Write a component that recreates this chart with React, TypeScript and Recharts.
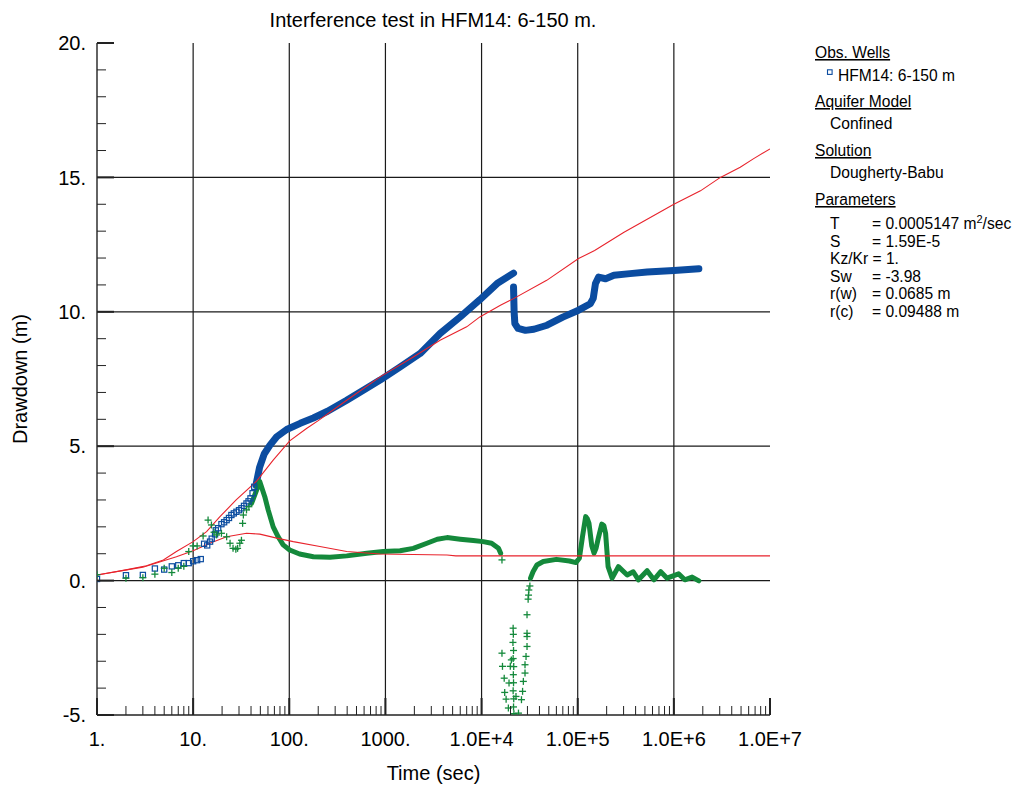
import React from 'react';
import { ComposedChart, Line, Scatter, XAxis, YAxis, ReferenceLine, Label } from 'recharts';

// Interference test, HFM14 section 6-150 m: drawdown (squares), derivative (pluses)
// and the Dougherty-Babu type curves (red), on a log time axis.

type Pt = { t: number; s: number };
const toPts = (rows: number[][]): Pt[] => rows.map(([t, s]) => ({ t, s }));

const FONT = 'Liberation Sans, Arial, Helvetica, sans-serif';
const BLUE = '#0b4ca0';
const GREEN = '#14893b';
const RED = '#e8232c';
const AXIS = '#222';

// ---- axis ticks -------------------------------------------------------
const decades = [1, 10, 100, 1000, 1e4, 1e5, 1e6, 1e7];
const decadeLabels = ['1.', '10.', '100.', '1000.', '1.0E+4', '1.0E+5', '1.0E+6', '1.0E+7'];
const minorSteps = [2, 3, 4, 5, 6, 7, 8, 9];
const xTicks = decades.flatMap((d, i) =>
  i < decades.length - 1 ? [d, ...minorSteps.map((m) => m * d)] : [d]
);
const yTicks = [-5, -4, -3, -2, -1, 0, 1, 2, 3, 4, 5, 6, 7, 8, 9, 10, 11, 12, 13, 14, 15, 16, 17, 18, 19, 20];
const yMajor = [-5, 0, 5, 10, 15, 20];
const xGrid = [10, 100, 1000, 1e4, 1e5, 1e6];
const yGrid = [0, 5, 10, 15];

// ---- observed drawdown (m) vs time (s) ---------------------------------
const obsEarly = toPts([
  [1, 0.06], [2, 0.2], [3, 0.21], [4, 0.45], [5, 0.41], [6, 0.53], [7, 0.57], [8, 0.65],
  [9, 0.65], [10, 0.72], [11, 0.76], [12, 0.8], [13, 1.37], [14, 1.31], [15, 1.45],
  [15.6, 1.56], [16.9, 1.72], [17.2, 1.87], [18.2, 1.95], [19.7, 2.1], [21, 2.17],
  [22.3, 2.25], [23.6, 2.33], [25, 2.44], [26.5, 2.5], [28.2, 2.56], [30, 2.62],
  [31.8, 2.69], [33.8, 2.78], [35.9, 2.87], [37.7, 2.95], [39.5, 3.06], [41.5, 3.25],
  [43.2, 3.49],
]);
const obsPumping = toPts([
  [45, 3.55], [49, 4.2], [55, 4.72], [63, 5.04], [74, 5.35], [94, 5.62], [130, 5.85],
  [178, 6.05], [250, 6.3], [396, 6.71], [600, 7.1], [880, 7.46], [1400, 7.93],
  [2300, 8.45], [3700, 9.19], [6000, 9.81], [9600, 10.45], [14500, 11.05], [21500, 11.44],
]);
const obsLate = toPts([
  [21500, 10.92], [21800, 10.0], [22200, 9.56], [24000, 9.38], [28600, 9.31], [35000, 9.35],
  [48000, 9.5], [70000, 9.8], [102000, 10.06], [135000, 10.3], [145000, 10.5],
  [153000, 11.05], [165000, 11.29], [195000, 11.23], [238000, 11.36], [350000, 11.42],
  [527000, 11.48], [1e6, 11.54], [1.82e6, 11.6],
]);

// ---- drawdown derivative ----------------------------------------------
const derivEarly = toPts([
  [1, 0.22], [2, 0.09], [3, 0.11], [4, 0.24], [5, 0.46], [6, 0.3], [7, 0.46], [8, 0.53],
  [9, 1.08], [10, 1.29], [11, 1.29], [12.7, 1.66], [14.3, 2.25], [15.5, 2.07], [16.5, 1.8],
  [17.5, 1.7], [19.7, 1.76], [22.3, 1.63], [24.2, 1.39], [26, 1.2], [27.8, 1.17], [29, 1.2],
  [30.6, 1.39], [31.8, 1.5], [32.7, 2.13], [33.3, 2.44], [35.9, 2.63], [38, 2.75],
]);
const derivPumping = toPts([
  [40.5, 2.87], [45.7, 3.37], [49.4, 3.68], [55.6, 3.12], [60.3, 2.63], [68, 2.0],
  [76.6, 1.63], [86.4, 1.33], [101, 1.14], [128, 0.99], [178, 0.89], [265, 0.87],
  [396, 0.92], [640, 1.02], [950, 1.08], [1420, 1.11], [1950, 1.2], [2700, 1.39],
  [3460, 1.54], [4370, 1.6], [6000, 1.54], [8200, 1.49], [10400, 1.45], [12700, 1.39],
  [15000, 1.2], [15800, 1.02],
]);
const derivScatter = toPts([
  [16300, 0.77], [16300, -2.7], [16500, -3.19], [17200, -3.63], [17400, -4.16],
  [18000, -4.41], [19000, -4.74], [19300, -3.81], [19900, -3.19], [20400, -2.95],
  [21300, -1.77], [21400, -2.0], [21200, -2.3], [21500, -2.6], [21300, -2.9], [21600, -3.2],
  [21400, -3.5], [21500, -3.8], [21300, -4.1], [21600, -4.4], [21500, -4.7], [21700, -4.95],
  [22800, -4.31], [24200, -4.93], [26000, -4.43], [26700, -4.12], [27200, -3.75],
  [28300, -3.44], [28300, -3.13], [29000, -2.82], [29700, -2.45], [29700, -2.08],
  [29700, -1.96], [29700, -1.27], [30500, -0.69], [30800, -0.54], [31000, -0.35],
  [31800, -0.2],
]);
const derivRecovery = toPts([
  [32300, 0.09], [34300, 0.33], [37600, 0.58], [43800, 0.71], [60000, 0.79], [82000, 0.73],
  [96000, 0.67], [104000, 0.83], [112000, 1.63], [121000, 2.38], [126000, 2.3],
  [131000, 2.13], [140000, 1.3], [148000, 1.02], [155000, 1.2], [165000, 1.63],
  [178000, 2.1], [187000, 2.05], [195000, 1.76], [207000, 0.52], [228000, 0.09],
  [265000, 0.52], [327000, 0.21], [378000, 0.33], [428000, 0.03], [527000, 0.37],
  [620000, 0.03], [730000, 0.33], [850000, 0.09], [1.12e6, 0.25], [1.3e6, 0.03],
  [1.55e6, 0.13], [1.82e6, -0.01],
]);

// ---- Dougherty-Babu type curves ----------------------------------------
const modelDrawdown = toPts([
  [1, 0.21], [2, 0.4], [3.27, 0.55], [4.9, 0.77], [6.7, 1.08], [10, 1.45], [13.8, 1.82],
  [19, 2.38], [28, 3.0], [45.7, 3.7], [68, 4.48], [101, 5.2], [151, 5.66], [200, 5.95],
  [396, 6.71], [880, 7.58], [1950, 8.32], [3700, 8.94], [7000, 9.44], [9600, 9.81],
  [15700, 10.24], [21500, 10.49], [47600, 11.17], [102000, 11.98], [150000, 12.28],
  [300000, 12.95], [1e6, 14.0], [1.89e6, 14.5], [3.05e6, 15.0], [4.9e6, 15.38],
  [6.7e6, 15.69], [1e7, 16.06],
]);
const modelDerivative = toPts([
  [1, 0.21], [3, 0.5], [6.7, 0.89], [10, 1.11], [14.9, 1.39], [22.3, 1.63], [35.9, 1.76],
  [49.4, 1.73], [74, 1.58], [110, 1.45], [208, 1.27], [396, 1.08], [880, 0.99],
  [1950, 0.97], [4370, 0.95], [5400, 0.92], [1e7, 0.92],
]);

// ---- legend / parameter panel text ---------------------------------------
const wellName = 'HFM14: 6-150 m';
const aquiferModel = 'Confined';
const solutionName = 'Dougherty-Babu';
const paramNames = ['T', 'S', '', 'Sw', 'r(w)', 'r(c)'];
const paramValues = ['= 0.0005147 m', '= 1.59E-5', 'Kz/Kr = 1.', '= -3.98', '= 0.0685 m', '= 0.09488 m'];

// ---- marks and ticks ----------------------------------------------------
const SquareMark = (p: any) => (
  <rect x={p.cx - 2.6} y={p.cy - 2.6} width={5.2} height={5.2} fill="none" stroke={BLUE} strokeWidth={1.2} />
);
const PlusMark = (p: any) => (
  <g stroke={GREEN} strokeWidth={1.3}>
    <line x1={p.cx - 3.5} y1={p.cy} x2={p.cx + 3.5} y2={p.cy} />
    <line x1={p.cx} y1={p.cy - 3.5} x2={p.cx} y2={p.cy + 3.5} />
  </g>
);

const BottomTick = (p: any) => {
  const i = decades.indexOf(p.payload.value);
  const major = i >= 0;
  return (
    <g>
      <line x1={p.x} y1={p.y} x2={p.x} y2={p.y - (major ? 17 : 9)} stroke={AXIS} strokeWidth={major ? 2 : 1} />
      {major && (
        <text x={p.x} y={p.y + 31} textAnchor="middle" fontSize={20} fontFamily={FONT} fill="#000">
          {decadeLabels[i]}
        </text>
      )}
    </g>
  );
};
const TopTick = (p: any) => {
  const major = decades.indexOf(p.payload.value) >= 0;
  return <line x1={p.x} y1={p.y} x2={p.x} y2={p.y + (major ? 17 : 9)} stroke={AXIS} strokeWidth={major ? 2 : 1} />;
};
const LeftTick = (p: any) => {
  const v = p.payload.value;
  const major = yMajor.includes(v);
  return (
    <g>
      <line x1={p.x} y1={p.y} x2={p.x + (major ? 17 : 9)} y2={p.y} stroke={AXIS} strokeWidth={major ? 2 : 1} />
      {major && (
        <text x={p.x - 11} y={p.y} dy="0.36em" textAnchor="end" fontSize={20} fontFamily={FONT} fill="#000">
          {`${v}.`}
        </text>
      )}
    </g>
  );
};
const RightTick = (p: any) => {
  const major = yMajor.includes(p.payload.value);
  return <line x1={p.x} y1={p.y} x2={p.x - (major ? 17 : 9)} y2={p.y} stroke={AXIS} strokeWidth={major ? 2 : 1} />;
};

const axisLine = { stroke: AXIS, strokeWidth: 1.4 };

export default function App() {
  const heading = (text: string, y: number) => (
    <text x={815} y={y} fontSize={15.6} fontFamily={FONT} fill="#000" style={{ textDecoration: 'underline' }}>
      {text}
    </text>
  );
  return (
    <div style={{ position: 'absolute', left: 0, top: 0, width: 1020, height: 787, background: '#fff' }}>
      <ComposedChart width={1020} height={787} margin={{ top: 43, right: 250, bottom: 0, left: 0 }}>
        <XAxis
          dataKey="t"
          type="number"
          scale="log"
          domain={[1, 1e7]}
          allowDataOverflow
          ticks={xTicks}
          interval={0}
          tick={<BottomTick />}
          tickLine={false}
          tickSize={0}
          tickMargin={0}
          height={72}
          axisLine={axisLine}
        >
          <Label
            content={({ viewBox }: any) => (
              <text x={viewBox.x + viewBox.width / 2} y={viewBox.y + 65} textAnchor="middle" fontSize={20} fontFamily={FONT} fill="#000">
                Time (sec)
              </text>
            )}
          />
        </XAxis>
        <XAxis
          xAxisId="top"
          orientation="top"
          dataKey="t"
          type="number"
          scale="log"
          domain={[1, 1e7]}
          allowDataOverflow
          ticks={xTicks}
          interval={0}
          tick={<TopTick />}
          tickLine={false}
          tickSize={0}
          tickMargin={0}
          height={0}
          axisLine={axisLine}
        />
        <YAxis
          type="number"
          domain={[-5, 20]}
          allowDataOverflow
          ticks={yTicks}
          interval={0}
          tick={<LeftTick />}
          tickLine={false}
          tickSize={0}
          tickMargin={0}
          width={97}
          axisLine={axisLine}
        >
          <Label
            content={({ viewBox }: any) => (
              <text
                transform={`translate(${viewBox.x + 26.5}, ${viewBox.y + viewBox.height / 2}) rotate(-90)`}
                textAnchor="middle"
                fontSize={20}
                fontFamily={FONT}
                fill="#000"
              >
                Drawdown (m)
              </text>
            )}
          />
        </YAxis>
        <YAxis
          yAxisId="right"
          orientation="right"
          type="number"
          domain={[-5, 20]}
          allowDataOverflow
          ticks={yTicks}
          interval={0}
          tick={<RightTick />}
          tickLine={false}
          tickSize={0}
          tickMargin={0}
          width={0}
          axisLine={axisLine}
        />

        {xGrid.map((x) => (
          <ReferenceLine key={`gx${x}`} x={x} stroke="#1a1a1a" strokeWidth={1.2} />
        ))}
        {yGrid.map((y) => (
          <ReferenceLine key={`gy${y}`} y={y} stroke="#1a1a1a" strokeWidth={1.2} />
        ))}

        <Scatter data={obsEarly} dataKey="s" shape={<SquareMark />} isAnimationActive={false} />
        <Line data={obsPumping} dataKey="s" type="linear" stroke={BLUE} strokeWidth={7} strokeLinecap="round" strokeLinejoin="round" dot={false} isAnimationActive={false} />
        <Line data={obsLate} dataKey="s" type="linear" stroke={BLUE} strokeWidth={7} strokeLinecap="round" strokeLinejoin="round" dot={false} isAnimationActive={false} />

        <Scatter data={derivEarly} dataKey="s" shape={<PlusMark />} isAnimationActive={false} />
        <Line data={derivPumping} dataKey="s" type="linear" stroke={GREEN} strokeWidth={5} strokeLinecap="round" strokeLinejoin="round" dot={false} isAnimationActive={false} />
        <Scatter data={derivScatter} dataKey="s" shape={<PlusMark />} isAnimationActive={false} />
        <Line data={derivRecovery} dataKey="s" type="linear" stroke={GREEN} strokeWidth={5} strokeLinecap="round" strokeLinejoin="round" dot={false} isAnimationActive={false} />

        <Line data={modelDrawdown} dataKey="s" type="linear" stroke={RED} strokeWidth={1.1} dot={false} isAnimationActive={false} />
        <Line data={modelDerivative} dataKey="s" type="linear" stroke={RED} strokeWidth={1.1} dot={false} isAnimationActive={false} />
      </ComposedChart>

      <svg width={1020} height={787} style={{ position: 'absolute', left: 0, top: 0, pointerEvents: 'none' }}>
        <text x={433} y={27} textAnchor="middle" fontSize={20} fontFamily={FONT} fill="#000">
          Interference test in HFM14: 6-150 m.
        </text>

        {heading('Obs. Wells', 58)}
        <rect x={827.5} y={69.8} width={4.6} height={4.6} fill="none" stroke={BLUE} strokeWidth={1.1} />
        <text x={838} y={81} fontSize={15.6} fontFamily={FONT} fill="#000">{wellName}</text>

        {heading('Aquifer Model', 107)}
        <text x={830} y={129} fontSize={15.6} fontFamily={FONT} fill="#000">{aquiferModel}</text>

        {heading('Solution', 156)}
        <text x={830} y={178} fontSize={15.6} fontFamily={FONT} fill="#000">{solutionName}</text>

        {heading('Parameters', 205)}
        {paramValues.map((v, i) => (
          <g key={v}>
            {paramNames[i] && (
              <text x={830} y={229.3 + i * 17.5} fontSize={15.6} fontFamily={FONT} fill="#000">{paramNames[i]}</text>
            )}
            <text x={paramNames[i] ? 872 : 830} y={229.3 + i * 17.5} fontSize={15.6} fontFamily={FONT} fill="#000">
              {v}
              {i === 0 && (
                <>
                  <tspan dy={-6} fontSize={11}>2</tspan>
                  <tspan dy={6}>/sec</tspan>
                </>
              )}
            </text>
          </g>
        ))}
      </svg>
    </div>
  );
}
